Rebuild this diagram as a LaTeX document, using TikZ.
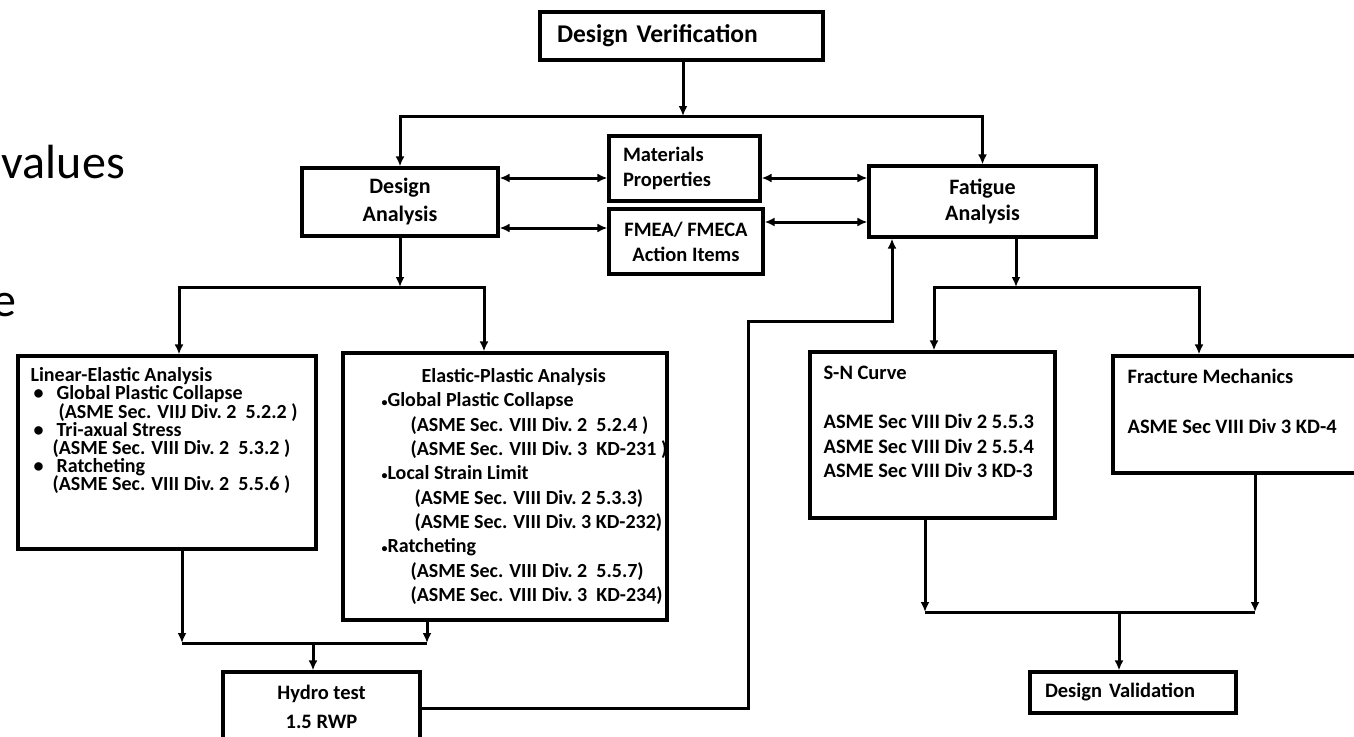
\documentclass[tikz,border=0pt]{standalone}
\usepackage{fontspec}
\setmainfont{Carlito}
\usetikzlibrary{arrows.meta,positioning,calc}
\lineskiplimit=-100pt
\newcommand{\smbul}{{\fontsize{12}{12}\selectfont\textbullet}}

\begin{document}
\begin{tikzpicture}[x=1pt, y=-1pt,
  box/.style={draw, line width=3.2pt, fill=white, inner sep=0pt, align=center, font=\bfseries\fontsize{20.5}{25}\selectfont},
  txt/.style={inner sep=0pt, align=left, anchor=north west, font=\bfseries\fontsize{20.5}{24}\selectfont},
  arr/.style={line width=3pt, -{Latex[length=10pt,width=9pt]}},
  dbl/.style={line width=3pt, {Latex[length=10pt,width=9pt]}-{Latex[length=10pt,width=9pt]}},
  ln/.style={line width=3pt},
  big/.style={inner sep=0pt, anchor=base east, font=\fontsize{48}{58}\selectfont}
]
  \fill[white] (0,0) rectangle (1354,736);
  \useasboundingbox (0,0) rectangle (1354,736);

  %% slide text behind the chart
  \node[big] (val) at (125,178) {values};
  \node[big] (ee) at (17,316) {e};

  %% top row
  \node[box, minimum width=283pt, minimum height=48pt, text width=249pt, align=left, font=\bfseries\fontsize{25.5}{30}\selectfont] (dv) at (681.5,36) {Design Verification};
  \node[box, minimum width=196pt, minimum height=68pt, font=\bfseries\fontsize{22}{28}\selectfont] (da) at (400,202) {Design\\Analysis};
  \node[box, minimum width=151pt, minimum height=65pt, text width=123pt, align=left] (mat) at (684.5,168.5) {Materials\\Properties};
  \node[box, minimum width=154pt, minimum height=65pt] (fmea) at (686,241.5) {FMEA/ FMECA\\Action Items};
  \node[box, minimum width=227pt, minimum height=71pt, font=\bfseries\fontsize{22}{26}\selectfont] (fat) at (982.5,201.5) {Fatigue\\Analysis};

  %% analysis boxes
  \node[box, minimum width=298pt, minimum height=193pt] (le) at (167,452.5) {};
  \node[txt, font=\bfseries\fontsize{20}{18.2}\selectfont] (le-t) at ([shift={(14,13)}]le.north west) {Linear-Elastic Analysis\\
    \hspace*{3pt}\makebox[23pt][l]{\textbullet}Global Plastic Collapse\\
    \hspace*{28pt}(ASME Sec. VIIJ Div.~2~~5.2.2 )\\
    \hspace*{3pt}\makebox[23pt][l]{\textbullet}Tri-axual Stress\\
    \hspace*{22pt}(ASME Sec. VIII Div.~2~~5.3.2 )\\
    \hspace*{3pt}\makebox[23pt][l]{\textbullet}Ratcheting\\
    \hspace*{22pt}(ASME Sec. VIII Div.~2~~5.5.6 )};

  \node[box, minimum width=324pt, minimum height=267pt] (ep) at (505,486.5) {};
  \node[txt, font=\bfseries\fontsize{20}{24.3}\selectfont] (ep-t) at ([shift={(40,17)}]ep.north west) {\hspace*{40pt}Elastic-Plastic Analysis\\
    \smbul Global Plastic Collapse\\
    \hspace*{29pt}(ASME Sec. VIII Div.~2~~5.2.4 )\\
    \hspace*{29pt}(ASME Sec. VIII Div.~3~~KD-231 )\\
    \smbul Local Strain Limit\\
    \hspace*{33pt}(ASME Sec. VIII Div.~2 5.3.3)\\
    \hspace*{33pt}(ASME Sec. VIII Div.~3 KD-232)\\
    \smbul Ratcheting\\
    \hspace*{29pt}(ASME Sec. VIII Div.~2~~5.5.7)\\
    \hspace*{29pt}(ASME Sec. VIII Div.~3~~KD-234)};

  \node[box, minimum width=245pt, minimum height=166pt] (sn) at (932.5,435) {};
  \node[txt, font=\bfseries\fontsize{20.5}{24.7}\selectfont] (sn-t) at ([shift={(15,15)}]sn.north west) {S-N Curve\\[24.7pt]
    ASME Sec VIII Div 2 5.5.3\\
    ASME Sec VIII Div 2 5.5.4\\
    ASME Sec VIII Div 3 KD-3};

  \node[box, minimum width=257pt, minimum height=117pt] (fm) at (1241.5,414.5) {};
  \node[txt, font=\bfseries\fontsize{20.5}{25}\selectfont] (fm-t) at ([shift={(16,15)}]fm.north west) {Fracture Mechanics\\[25pt]
    ASME Sec VIII Div 3 KD-4};

  %% bottom row
  \node[box, minimum width=197pt, minimum height=70pt, font=\bfseries\fontsize{20.5}{29}\selectfont] (hyd) at (321.5,707) {Hydro test\\1.5 RWP};
  \node[box, minimum width=206pt, minimum height=41pt, text width=176pt, align=left] (dval) at (1133,692.5) {Design Validation};

  %% connectors
  \coordinate (vj) at (683,116);
  \draw[arr] (dv.south -| vj) -- (vj);
  \draw[arr] (vj) -| (da);
  \draw[arr] (vj) -| (fat);

  \draw[dbl] (da.east |- 0,178) -- (mat.west |- 0,178);
  \draw[dbl] (da.east |- 0,228) -- (fmea.west |- 0,228);
  \draw[dbl] (mat.east |- 0,178) -- (fat.west |- 0,178);
  \draw[dbl] (fmea.east |- 0,222) -- (fat.west |- 0,222);

  \coordinate (lj) at (400,287);
  \draw[arr] (da) -- (lj);
  \draw[arr] (lj) -| ([xshift=12pt]le.north);
  \draw[arr] (lj) -| ([xshift=-21pt]ep.north);

  \coordinate (le-o) at (182,643);
  \coordinate (ep-o) at (427,643);
  \coordinate (hj) at (313,643);
  \draw[arr] (le.south -| le-o) -- (le-o);
  \draw[arr] (ep.south -| ep-o) -- (ep-o);
  \draw[ln] (le-o) -- (ep-o);
  \draw[arr] (hj) -- (hyd.north -| hj);

  \draw[arr] (hyd.east |- 0,708) -| (748,321) -| (fat.south -| 892,0);

  \coordinate (fj) at (1016,287);
  \draw[arr] (fat.south -| fj) -- (fj);
  \draw[arr] (fj) -| (sn.north -| 934,0);
  \draw[arr] (fj) -| (fm.north -| 1199,0);

  \coordinate (sn-o) at (925,612);
  \coordinate (fm-o) at (1255,612);
  \coordinate (vj2) at (1119,612);
  \draw[arr] (sn.south -| sn-o) -- (sn-o);
  \draw[arr] (fm.south -| fm-o) -- (fm-o);
  \draw[ln] (sn-o) -- (fm-o);
  \draw[arr] (vj2) -- (dval.north -| vj2);
\end{tikzpicture}
\end{document}
